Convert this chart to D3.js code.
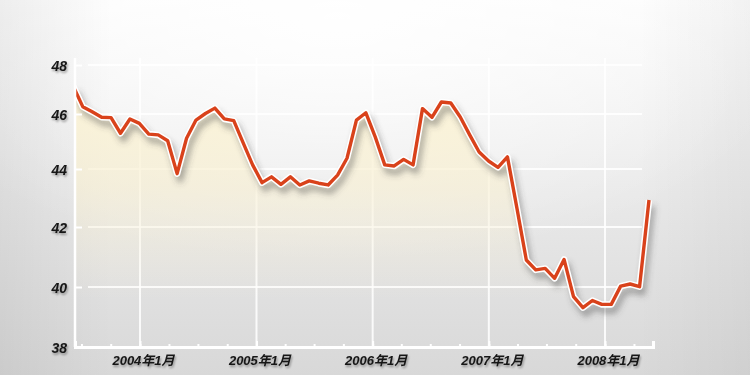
<!DOCTYPE html>
<html>
<head>
<meta charset="utf-8">
<script src="https://cdn.jsdelivr.net/npm/d3@7"></script>
<style>
  html, body { margin: 0; padding: 0; background: #eee; }
  svg { display: block; }
  text { font-family: "Liberation Sans", Arial, "Noto Sans CJK JP", sans-serif; }
</style>
</head>
<body>
<svg id="chart" width="750" height="375"></svg>
<script>
// ---- data ----
const values = [47.13, 46.30, 46.09, 45.88, 45.87, 45.30, 45.82, 45.66, 45.27, 45.24,
                45.03, 43.84, 45.12, 45.78, 46.02, 46.24, 45.82, 45.76, 44.95, 44.15,
                43.53, 43.73, 43.47, 43.73, 43.45, 43.59, 43.51, 43.45, 43.79, 44.39,
                45.78, 46.05, 45.16, 44.15, 44.11, 44.35, 44.15, 46.22, 45.88, 46.49,
                46.45, 45.89, 45.24, 44.62, 44.29, 44.06, 44.44, 42.66, 40.90, 40.57,
                40.62, 40.29, 40.92, 39.68, 39.31, 39.55, 39.42, 39.42, 40.03, 40.10,
                40.01, 42.93];
const yTicks = [38, 40, 42, 44, 46, 48];
const yearTicks = ["2004-01-01", "2005-01-01", "2006-01-01", "2007-01-01", "2008-01-01"];

// ---- layout ----
const W = 750, H = 375;
const plotL = 75, plotR = 653, plotB = 347, plotT = 58;

const svg = d3.select("#chart");
const defs = svg.append("defs");

// background gradients
const bg = defs.append("linearGradient").attr("id", "bg").attr("x1", 0).attr("y1", 0).attr("x2", 0).attr("y2", 1);
bg.append("stop").attr("offset", "0%").attr("stop-color", "#fcfcfc");
bg.append("stop").attr("offset", "35%").attr("stop-color", "#efefef");
bg.append("stop").attr("offset", "100%").attr("stop-color", "#d8d8d8");
const rg = defs.append("radialGradient").attr("id", "glow").attr("cx", "0.45").attr("cy", "0.05").attr("r", "0.65");
rg.append("stop").attr("offset", "0%").attr("stop-color", "#ffffff").attr("stop-opacity", 0.9);
rg.append("stop").attr("offset", "100%").attr("stop-color", "#ffffff").attr("stop-opacity", 0);
const vg = defs.append("linearGradient").attr("id", "vign").attr("x1", 0).attr("y1", 0).attr("x2", 1).attr("y2", 0);
vg.append("stop").attr("offset", "0%").attr("stop-color", "#000").attr("stop-opacity", 0.06);
vg.append("stop").attr("offset", "15%").attr("stop-color", "#000").attr("stop-opacity", 0);
vg.append("stop").attr("offset", "85%").attr("stop-color", "#000").attr("stop-opacity", 0);
vg.append("stop").attr("offset", "100%").attr("stop-color", "#000").attr("stop-opacity", 0.04);

// area gradient
const ag = defs.append("linearGradient").attr("id", "areaFill")
  .attr("gradientUnits", "userSpaceOnUse").attr("x1", 0).attr("y1", 95).attr("x2", 0).attr("y2", 300);
ag.append("stop").attr("offset", "0%").attr("stop-color", "#fbf3d6").attr("stop-opacity", 0.95);
ag.append("stop").attr("offset", "45%").attr("stop-color", "#f8efd0").attr("stop-opacity", 0.6);
ag.append("stop").attr("offset", "100%").attr("stop-color", "#f3ecd6").attr("stop-opacity", 0);

// shadow filter
const f = defs.append("filter").attr("id", "shadow").attr("x", "-10%").attr("y", "-10%").attr("width", "120%").attr("height", "130%");
f.append("feGaussianBlur").attr("stdDeviation", 3);
const tf = defs.append("filter").attr("id", "tshadow").attr("x", "-20%").attr("y", "-20%").attr("width", "150%").attr("height", "160%");
tf.append("feGaussianBlur").attr("in", "SourceAlpha").attr("stdDeviation", 0.8).attr("result", "b");
tf.append("feOffset").attr("in", "b").attr("dx", 1).attr("dy", 1.5).attr("result", "o");
tf.append("feComponentTransfer").attr("in", "o").attr("result", "o2")
  .append("feFuncA").attr("type", "linear").attr("slope", 0.35);
const fm = tf.append("feMerge");
fm.append("feMergeNode").attr("in", "o2");
fm.append("feMergeNode").attr("in", "SourceGraphic");

defs.append("clipPath").attr("id", "plotClip")
  .append("rect").attr("x", plotL).attr("y", 30).attr("width", plotR - plotL + 10).attr("height", plotB - 30);

svg.append("rect").attr("width", W).attr("height", H).attr("fill", "url(#bg)");
svg.append("rect").attr("width", W).attr("height", H).attr("fill", "url(#glow)");
svg.append("rect").attr("width", W).attr("height", H).attr("fill", "url(#vign)");

// ---- scales ----
const y = d3.scaleLinear().domain(yTicks).range([347, 287, 227, 169, 114, 65]);
const parse = d3.utcParse("%Y-%m-%d");
const yearDates = yearTicks.map(parse);
const xTime = d3.scaleUtc().domain([yearDates[0], yearDates[yearDates.length - 1]]).range([140, 605]);
const xAxisScale = xTime.copy().domain([xTime.invert(plotL), xTime.invert(plotR)]).range([plotL, plotR]);
const xIdx = d3.scaleLinear().domain([0, values.length - 1]).range([73.3, 649]);

// ---- grid ----
const grid = svg.append("g");
grid.selectAll("line.h").data(yTicks.slice(1)).join("line")
  .attr("x1", 88).attr("x2", 642)
  .attr("y1", d => y(d)).attr("y2", d => y(d))
  .attr("stroke", "#ffffff").attr("stroke-width", 2).attr("stroke-opacity", 0.85);
grid.selectAll("line.v").data(yearDates).join("line")
  .attr("x1", d => xTime(d)).attr("x2", d => xTime(d))
  .attr("y1", plotT).attr("y2", plotB)
  .attr("stroke", "#ffffff").attr("stroke-width", 2).attr("stroke-opacity", 0.85);

// ---- area + line ----
const plot = svg.append("g").attr("clip-path", "url(#plotClip)");
const area = d3.area().x((d, i) => xIdx(i)).y0(y(38)).y1(d => y(d));
const line = d3.line().x((d, i) => xIdx(i)).y(d => y(d));

plot.append("path").datum(values).attr("d", area).attr("fill", "url(#areaFill)");
plot.append("path").datum(values).attr("d", line)
  .attr("fill", "none").attr("stroke", "#444").attr("stroke-opacity", 0.45)
  .attr("stroke-width", 6).attr("stroke-linejoin", "round")
  .attr("transform", "translate(3,6)").attr("filter", "url(#shadow)");
plot.append("path").datum(values).attr("d", line)
  .attr("fill", "none").attr("stroke", "#ffffff").attr("stroke-width", 6.5)
  .attr("stroke-linejoin", "round");
plot.append("path").datum(values).attr("d", line)
  .attr("fill", "none").attr("stroke", "#d9421b").attr("stroke-width", 3.4)
  .attr("stroke-linejoin", "round");

// ---- axes ----
svg.append("line").attr("x1", plotL).attr("x2", plotL).attr("y1", plotT).attr("y2", plotB)
  .attr("stroke", "#ffffff").attr("stroke-width", 2.5);

const yAxis = svg.append("g").attr("transform", `translate(${plotL},0)`)
  .call(d3.axisLeft(y).tickValues(yTicks).tickSize(-7).tickPadding(8).tickFormat(d3.format("d")));
yAxis.select(".domain").remove();
yAxis.selectAll(".tick line").attr("stroke", "#ffffff").attr("stroke-width", 2);
yAxis.selectAll(".tick text")
  .attr("fill", "#151515").attr("font-size", 14).attr("font-style", "italic").attr("font-weight", "bold")
  .attr("dy", "0.4em").attr("filter", "url(#tshadow)")
  .attr("font-family", "'Liberation Sans', Arial, sans-serif");

// minor ticks (quarterly)
const xMinor = svg.append("g").attr("transform", `translate(0,${plotB})`)
  .call(d3.axisBottom(xAxisScale).ticks(d3.utcMonth.every(3)).tickSizeInner(-3).tickSizeOuter(-6).tickFormat(""));
xMinor.select(".domain").attr("stroke", "#ffffff").attr("stroke-width", 3);
xMinor.selectAll(".tick line").attr("stroke", "#ffffff").attr("stroke-width", 2);

// major ticks (yearly) with labels
const xMajor = svg.append("g").attr("transform", `translate(0,${plotB})`)
  .call(d3.axisBottom(xAxisScale).tickValues(yearDates).tickSizeInner(-6).tickSizeOuter(0).tickPadding(6)
    .tickFormat(d3.utcFormat("%Y年%-m月")));
xMajor.select(".domain").remove();
xMajor.selectAll(".tick text")
  .attr("fill", "#151515").attr("font-size", 13).attr("font-style", "italic").attr("font-weight", "bold")
  .attr("dy", "0.95em").attr("dx", 3).attr("filter", "url(#tshadow)")
  .attr("font-family", "'Liberation Sans', Arial, 'Noto Sans CJK JP', sans-serif");
xMajor.selectAll(".tick line").attr("stroke", "#ffffff").attr("stroke-width", 2);
</script>
</body>
</html>
